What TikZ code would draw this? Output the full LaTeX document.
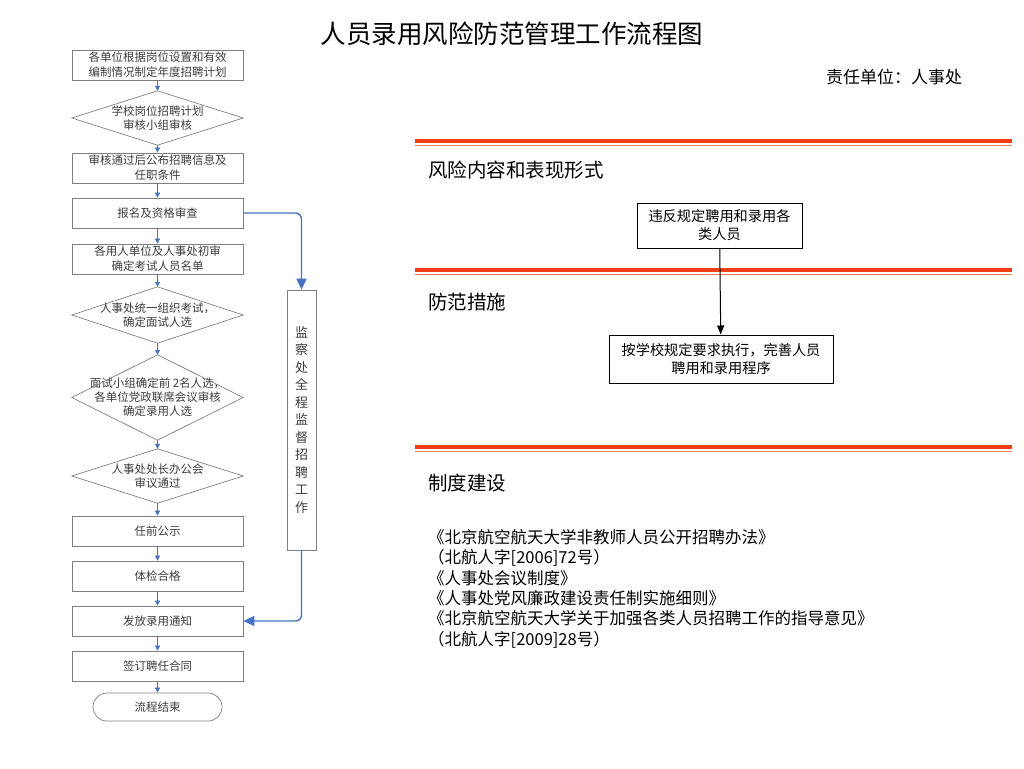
\documentclass[tikz,border=0pt]{standalone}
\usepackage{fontspec}
\setmainfont{Noto Sans CJK SC}
\usetikzlibrary{arrows.meta}

\definecolor{flowblue}{RGB}{68,114,196}
\definecolor{boxgray}{RGB}{128,128,128}
\definecolor{txtgray}{RGB}{60,60,60}
\definecolor{redthick}{RGB}{240,62,22}
\definecolor{redthin}{RGB}{244,125,90}

\begin{document}
\begin{tikzpicture}[x=1pt,y=-1pt]
    \tikzstyle{stepbox}=[draw=boxgray,line width=0.7pt,minimum width=171pt,minimum height=30pt,inner sep=0pt,align=center,text=txtgray,font=\fontsize{11.5}{15}\selectfont]
    \tikzstyle{decide}=[minimum width=171pt,inner sep=0pt,align=center,text=txtgray,font=\fontsize{11.5}{14}\selectfont]
    \tikzstyle{sarr}=[flowblue,line width=0.6pt,-{Triangle[width=5pt,length=5pt]}]
    \tikzstyle{barr}=[flowblue,line width=1.4pt,rounded corners=6pt,-{Triangle[width=10pt,length=11pt]}]
    \tikzstyle{riskbox}=[draw,line width=1pt,inner sep=0pt,align=center,font=\fontsize{14.2}{18}\selectfont]
    \tikzstyle{sechead}=[anchor=west,inner sep=0pt,font=\fontsize{19.5}{22}\selectfont]

    \useasboundingbox (0,0) rectangle (1024,768);

    % left: flow of the hiring steps
    \node[stepbox] (b1) at (157.5,65) {各单位根据岗位设置和有效\\编制情况制定年度招聘计划};
    \node[decide,minimum height=54pt] (d1) at (157.5,118) {学校岗位招聘计划\\审核小组审核};
    \node[stepbox] (b2) at (157.5,168) {审核通过后公布招聘信息及\\任职条件};
    \node[stepbox] (b3) at (157.5,213) {报名及资格审查};
    \node[stepbox] (b4) at (157.5,259) {各用人单位及人事处初审\\确定考试人员名单};
    \node[decide,minimum height=56pt] (d2) at (157.5,315) {人事处统一组织考试，\\确定面试人选};
    \node[decide,minimum height=85pt] (d3) at (157.5,397.5) {面试小组确定前 2名人选，\\各单位党政联席会议审核\\确定录用人选};
    \node[decide,minimum height=54pt] (d4) at (157.5,476) {人事处处长办公会\\审议通过};
    \node[stepbox] (b5) at (157.5,531) {任前公示};
    \node[stepbox] (b6) at (157.5,576) {体检合格};
    \node[stepbox] (b7) at (157.5,621) {发放录用通知};
    \node[stepbox] (b8) at (157.5,666) {签订聘任合同};
    \node[draw=boxgray,line width=0.7pt,rounded corners=14pt,minimum width=129pt,minimum height=28pt,inner sep=0pt,text=txtgray,font=\fontsize{11.5}{14}\selectfont] (t1) at (157.5,707) {流程结束};

    \foreach \n in {d1,d2,d3,d4}
        \draw[boxgray,line width=0.7pt] (\n.west) -- (\n.north) -- (\n.east) -- (\n.south) -- cycle;

    \foreach \a/\b in {b1/d1, d1/b2, b2/b3, b3/b4, b4/d2, d2/d3, d3/d4, d4/b5, b5/b6, b6/b7, b7/b8, b8/t1}
        \draw[sarr] (\a) -- (\b);

    % supervision
    \node[draw=boxgray,line width=0.7pt,minimum width=29pt,minimum height=260pt,inner sep=0pt,align=center,text=txtgray,font=\fontsize{13}{17.5}\selectfont] (sv) at (301.5,420) {监\\察\\处\\全\\程\\监\\督\\招\\聘\\工\\作};
    \draw[barr] (b3.east) -| (sv.north);
    \draw[barr] (sv.south) |- (b7.east);

    % right side
    \node[font=\fontsize{25.5}{28}\selectfont] (title) at (512,34) {人员录用风险防范管理工作流程图};
    \node[font=\fontsize{17}{20}\selectfont] (duty) at (894,77) {责任单位：人事处};

    \foreach \y in {141,270,447} {
        \draw[redthick,line width=3.2pt] (415,\y) -- (1012,\y);
        \draw[redthin,line width=1.2pt] (415,\y+4.5) -- (1012,\y+4.5);
    }

    \node[sechead] (h1) at (428,170) {风险内容和表现形式};
    \node[sechead] (h2) at (428,302) {防范措施};
    \node[sechead] (h3) at (428,483) {制度建设};

    \node[riskbox,minimum width=165pt,minimum height=45pt] (rv) at (719.5,225.5) {违反规定聘用和录用各\\类人员};
    \node[riskbox,minimum width=224pt,minimum height=48pt] (pm) at (721,359) {按学校规定要求执行，完善人员\\聘用和录用程序};
    \draw[line width=1pt,-{Triangle[width=7pt,length=9pt]}] (rv) -- (pm);

    \node[anchor=north west,align=left,inner sep=0pt,font=\fontsize{16.5}{20.4}\selectfont] (zd) at (428,529) {《北京航空航天大学非教师人员公开招聘办法》\\（北航人字[2006]72号）\\《人事处会议制度》\\《人事处党风廉政建设责任制实施细则》\\《北京航空航天大学关于加强各类人员招聘工作的指导意见》\\（北航人字[2009]28号）};
\end{tikzpicture}
\end{document}
